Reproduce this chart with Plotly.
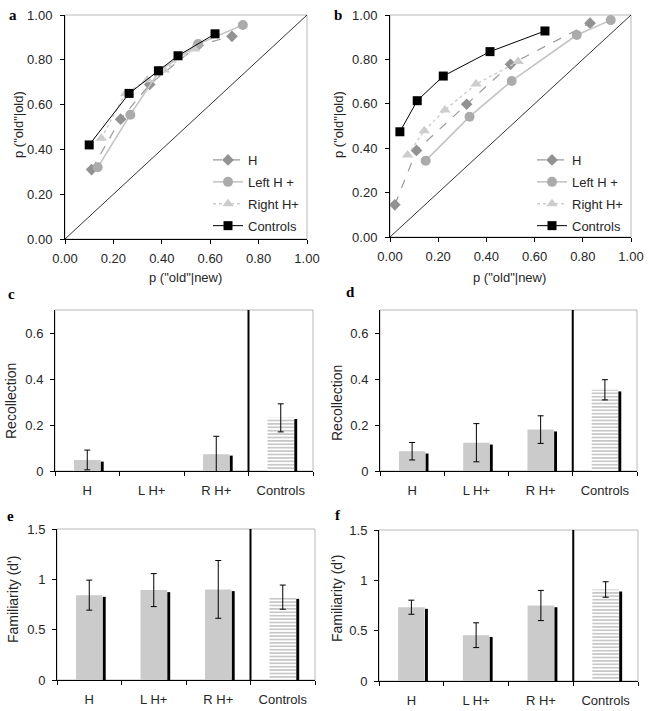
import plotly.graph_objects as go

# ---------------- data ----------------
# Panel a (ROC)
A_H_X = [0.11, 0.23, 0.35, 0.55, 0.69]
A_H_Y = [0.31, 0.535, 0.69, 0.865, 0.905]
A_L_X = [0.135, 0.27, 0.39, 0.55, 0.735]
A_L_Y = [0.32, 0.555, 0.75, 0.87, 0.955]
A_R_X = [0.15, 0.25, 0.34, 0.41, 0.535]
A_R_Y = [0.45, 0.65, 0.71, 0.755, 0.848]
A_C_X = [0.10, 0.265, 0.386, 0.467, 0.62]
A_C_Y = [0.42, 0.65, 0.751, 0.818, 0.916]

# Panel b (ROC)
B_H_X = [0.02, 0.11, 0.318, 0.50, 0.83]
B_H_Y = [0.145, 0.39, 0.598, 0.778, 0.963]
B_L_X = [0.148, 0.33, 0.505, 0.775, 0.916]
B_L_Y = [0.344, 0.542, 0.703, 0.91, 0.977]
B_R_X = [0.073, 0.142, 0.228, 0.357, 0.532]
B_R_Y = [0.369, 0.479, 0.572, 0.689, 0.79]
B_C_X = [0.041, 0.113, 0.221, 0.415, 0.643]
B_C_Y = [0.474, 0.614, 0.725, 0.835, 0.928]

CHANCE = [0, 1]
ROC_TICKS = [0, 0.2, 0.4, 0.6, 0.8, 1.0]

CATS = ["H", "L H+", "R H+", "Controls"]

# Panel c: Recollection
C_VAL = [0.048, None, 0.073, 0.231]
C_SHADOW = [0.041, None, 0.067, 0.226]
C_ERR = [0.043, None, 0.078, 0.061]
# Panel d: Recollection
D_VAL = [0.086, 0.123, 0.180, 0.353]
D_SHADOW = [0.076, 0.115, 0.172, 0.346]
D_ERR = [0.038, 0.083, 0.060, 0.044]
# Panel e: Familiarity
E_VAL = [0.843, 0.893, 0.900, 0.823]
E_SHADOW = [0.826, 0.873, 0.883, 0.806]
E_ERR = [0.149, 0.164, 0.287, 0.120]
# Panel f: Familiarity
F_VAL = [0.733, 0.455, 0.750, 0.909]
F_SHADOW = [0.717, 0.438, 0.733, 0.889]
F_ERR = [0.070, 0.123, 0.150, 0.077]

W, H = 649, 711
FONT = "Arial, Liberation Sans, sans-serif"
TXT = "#262626"


def dx(a, b):
    return [a / W, b / W]


def dy(top, bottom):
    return [1 - bottom / H, 1 - top / H]


fig = go.Figure()

# ---------------- ROC panels ----------------
styles = [
    ("H", "diamond", 9, "#929292", "#9a9a9a", "dash", 1.2),
    ("Left H +", "circle", 10, "#ababab", "#c4c4c4", "solid", 1.6),
    ("Right H+", "triangle-up", 10, "#cdcdcd", "#cdcdcd", "dot", 1.4),
    ("Controls", "square", 9, "#000000", "#000000", "solid", 1.0),
]
roc_sets = [
    ("x", "y", "legend", [(A_H_X, A_H_Y), (A_L_X, A_L_Y), (A_R_X, A_R_Y), (A_C_X, A_C_Y)]),
    ("x2", "y2", "legend2", [(B_H_X, B_H_Y), (B_L_X, B_L_Y), (B_R_X, B_R_Y), (B_C_X, B_C_Y)]),
]
for xa, ya, leg, series in roc_sets:
    fig.add_trace(go.Scatter(x=CHANCE, y=CHANCE, mode="lines", xaxis=xa, yaxis=ya,
                             line=dict(color="#000", width=0.8), showlegend=False,
                             hoverinfo="skip"))
    for (name, sym, size, mc, lc, dash, lw), (xs, ys) in zip(styles, series):
        fig.add_trace(go.Scatter(
            x=xs, y=ys, mode="lines+markers", name=name, xaxis=xa, yaxis=ya,
            legend=leg, legendgroup=leg + name,
            marker=dict(symbol=sym, size=size, color=mc, line=dict(width=0)),
            line=dict(color=lc, width=lw, dash=dash)))

# ---------------- bar panels ----------------
bar_sets = [
    ("x3", "y3", C_VAL, C_SHADOW, C_ERR),
    ("x4", "y4", D_VAL, D_SHADOW, D_ERR),
    ("x5", "y5", E_VAL, E_SHADOW, E_ERR),
    ("x6", "y6", F_VAL, F_SHADOW, F_ERR),
]
for xa, ya, vals, shadow, err in bar_sets:
    fig.add_trace(go.Bar(
        x=CATS, y=vals, xaxis=xa, yaxis=ya, width=0.41, offset=-0.205,
        marker=dict(color=["#cbcbcb", "#cbcbcb", "#cbcbcb", "#ffffff"],
                    line=dict(width=0),
                    pattern=dict(shape=["", "", "", "-"], fgcolor="#b4b4b4",
                                 size=3.4, solidity=0.3)),
        error_y=dict(type="data", array=err, color="#000", thickness=1, width=3),
        showlegend=False))
    fig.add_trace(go.Bar(
        x=CATS, y=shadow, xaxis=xa, yaxis=ya, width=0.045, offset=0.21,
        marker=dict(color="#000", line=dict(width=0)), showlegend=False))

# ---------------- axes ----------------
axis_common = dict(showgrid=False, zeroline=False, showline=True, linecolor="#000",
                   linewidth=1, ticks="outside", ticklen=4, tickcolor="#000",
                   automargin=False,
                   tickfont=dict(family=FONT, size=13, color=TXT))

layout = dict(
    width=W, height=H, margin=dict(l=0, r=0, t=0, b=0, autoexpand=False),
    paper_bgcolor="white", plot_bgcolor="white", barmode="overlay",
    font=dict(family=FONT, color=TXT),
)

# ROC axes
roc_dom = [(dx(65, 307), dy(15, 239)), (dx(390, 631), dy(15, 237))]
for i, (xd, yd) in enumerate(roc_dom):
    n = "" if i == 0 else "2"
    layout["xaxis" + n] = dict(axis_common, domain=xd, range=[0, 1], tickvals=ROC_TICKS,
                               tickformat=".2f", anchor="y" + n, ticklabelstandoff=3)
    layout["yaxis" + n] = dict(axis_common, domain=yd, range=[0, 1], tickvals=ROC_TICKS,
                               tickformat=".2f", anchor="x" + n, ticklabelstandoff=5)

bar_dom = [
    (dx(55, 313), dy(310, 471), [0, 0.7], 0.2),
    (dx(380, 637), dy(310, 471), [0, 0.7], 0.2),
    (dx(57, 315), dy(529, 680), [0, 1.5], 0.5),
    (dx(379, 638), dy(530, 681), [0, 1.5], 0.5),
]
for k, (xd, yd, rng, dt) in enumerate(bar_dom):
    n = str(k + 3)
    layout["xaxis" + n] = dict(axis_common, domain=xd, type="category",
                               categoryorder="array", categoryarray=CATS,
                               range=[-0.5, 3.5], tickson="boundaries", ticklen=4,
                               anchor="y" + n, ticklabelstandoff=7)
    layout["yaxis" + n] = dict(axis_common, domain=yd, range=rng, dtick=dt, tick0=0,
                               anchor="x" + n, ticklabelstandoff=4)

legend_common = dict(font=dict(family=FONT, size=13, color=TXT), bgcolor="rgba(0,0,0,0)",
                     tracegroupgap=2, itemwidth=30, xanchor="left", yanchor="top")
layout["legend"] = dict(legend_common, x=208 / W, y=1 - 145 / H)
layout["legend2"] = dict(legend_common, x=532 / W, y=1 - 145 / H)

fig.update_layout(**layout)

# plot-area borders (grey top/right frame)
shapes = []
for n in ["", "2", "3", "4", "5", "6"]:
    shapes.append(dict(type="rect", xref=("x" + n + " domain"), yref=("y" + n + " domain"),
                       x0=0, x1=1, y0=0, y1=1, line=dict(color="#b8b8b8", width=1),
                       layer="below"))
# separator before Controls group
for n in ["3", "4", "5", "6"]:
    shapes.append(dict(type="line", xref="x" + n, yref="y" + n + " domain",
                       x0=2.5, x1=2.5, y0=0, y1=1, line=dict(color="#000", width=2)))
fig.update_layout(shapes=shapes)

# axis titles (placed as text in pixel positions)
titles = [
    ('p ("old"|new)', 186, 277, 0, 13),
    ('p ("old"|new)', 510, 277, 0, 13),
    ('p ("old"|old)', 18, 125, -90, 13),
    ('p ("old"|old)', 338, 125, -90, 13),
    ("Recollection", 11, 401, -90, 14),
    ("Recollection", 337, 403, -90, 14),
    ("Familiarity (d')", 13, 600, -90, 14),
    ("Familiarity (d')", 337, 599, -90, 14),
]
for t, px, py, ang, fs in titles:
    fig.add_annotation(text=t, x=px / W, y=1 - py / H, xref="paper", yref="paper",
                       showarrow=False, xanchor="center", yanchor="middle", textangle=ang,
                       font=dict(family=FONT, size=fs, color=TXT))

# panel letters
letters = [("a", 13, 15), ("b", 338, 15), ("c", 11, 294), ("d", 350, 292),
           ("e", 10, 516), ("f", 338, 515)]
for t, px, py in letters:
    fig.add_annotation(text="<b>" + t + "</b>", x=px / W, y=1 - py / H, xref="paper",
                       yref="paper", showarrow=False, xanchor="center", yanchor="middle",
                       font=dict(family="Liberation Serif, DejaVu Serif, serif", size=15,
                                 color="#000"))

fig.write_html("out.html", config={"displayModeBar": False},
               post_script="document.body.style.margin='0';document.body.style.padding='0';")
